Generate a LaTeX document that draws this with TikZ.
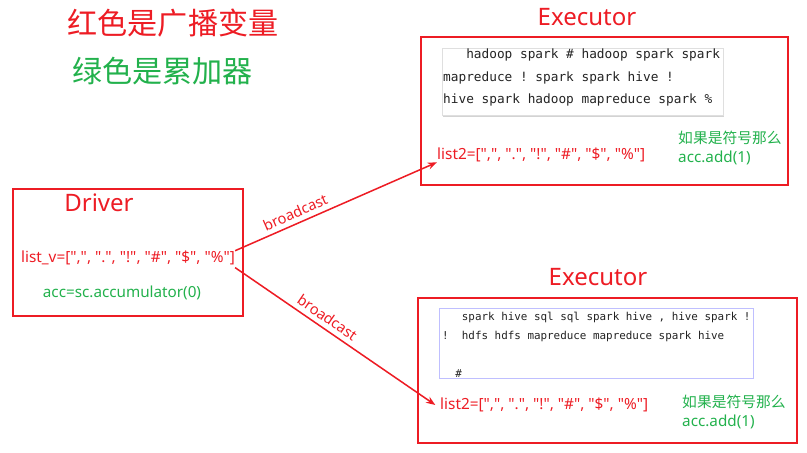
\documentclass[tikz,border=0pt]{standalone}
\usepackage{fontspec}
\setmonofont{DejaVu Sans Mono}
\newfontfamily\uifont{Noto Sans}
\newfontfamily\cjk{Noto Sans CJK SC}
\usepackage{tikz}
\usetikzlibrary{arrows.meta,positioning,shadows}
\definecolor{bcred}{RGB}{237,28,36}
\definecolor{accgreen}{RGB}{34,177,76}
\definecolor{codeink}{RGB}{35,35,35}
\newcommand{\fs}[1]{\fontsize{#1}{1.2\dimexpr#1pt\relax}\selectfont}

\begin{document}
\begin{tikzpicture}[x=0.03cm,y=-0.03cm,
  frame/.style={draw=bcred,line width=1.7pt},
  heading/.style={text=bcred,font=\uifont\fs{20.5}},
  redtxt/.style={text=bcred,font=\uifont\fs{13.1},inner sep=0pt},
  greentxt/.style={text=accgreen,font=\uifont\fontsize{13}{17}\selectfont,align=left,inner sep=0pt},
  codebox/.style={draw=gray!25,fill=white,line width=0.4pt},
  codetxt/.style={text=codeink,align=left,inner sep=0pt},
  bcast/.style={draw=bcred,line width=1.3pt,-{Stealth[length=8pt,width=6pt]}},
  bclabel/.style={text=bcred,font=\uifont\fs{12.5},sloped,above,inner sep=4pt}]
  \useasboundingbox (0,0) rectangle (807,453);

  % legend
  \node[text=bcred,font=\cjk\fs{25.7}] (legendred) at (173,23) {红色是广播变量};
  \node[text=accgreen,font=\cjk\fs{25.7}] (legendgreen) at (162.5,71) {绿色是累加器};

  % driver
  \node[frame,minimum width=6.9cm,minimum height=3.81cm] (driver) at (128,252.5) {};
  \node[heading] (drivertitle) at (99,203) {Driver};
  \node[redtxt] (listv) at (128,258) {list\_v=[",", ".", "!", "\#", "\$", "\%"]};
  \node[text=accgreen,font=\uifont\fs{13}] (accinit) at (122,293) {acc=sc.accumulator(0)};

  % executor 1
  \node[frame,minimum width=11.01cm,minimum height=4.44cm] (exec1) at (604.5,111) {};
  \node[heading] (exec1title) at (587,17) {Executor};
  \node[codebox,drop shadow={opacity=0.35,shadow xshift=1pt,shadow yshift=-1.5pt},
    minimum width=8.43cm,minimum height=2.01cm] (code1box) at (582.5,81.5) {};
  \node[codetxt,font=\fontsize{10.9}{19.2}\ttfamily,anchor=west] (code1) at (443,77.5)
    {~~~hadoop spark \# hadoop spark spark\\
     mapreduce ! spark spark hive !\\
     hive spark hadoop mapreduce spark \%};
  \node[redtxt,anchor=west] (list2a) at (437,155) {list2=[",", ".", "!", "\#", "\$", "\%"]};
  \node[greentxt,anchor=west] (add1) at (678,148) {{\cjk\fontsize{12.6}{17}\selectfont 如果是符号那么}\\acc.add(1)};

  % executor 2
  \node[frame,minimum width=11.37cm,minimum height=4.35cm] (exec2) at (607.5,370.5) {};
  \node[heading] (exec2title) at (598,277) {Executor};
  \node[codebox,draw=blue!25,line width=0.8pt,drop shadow={opacity=0.2,shadow xshift=1pt,shadow yshift=-1pt},
    minimum width=9.42cm,minimum height=2.1cm] (code2box) at (596,343) {};
  \node[codetxt,font=\fontsize{9.3}{16.2}\ttfamily,anchor=west] (code2) at (442,344.5)
    {~~~spark hive sql sql spark hive , hive spark !\\
     !~~hdfs hdfs mapreduce mapreduce spark hive\\
     \mbox{}\\
     ~~\#};
  \node[redtxt,anchor=west] (list2b) at (440,405) {list2=[",", ".", "!", "\#", "\$", "\%"]};
  \node[greentxt,anchor=west] (add2) at (682,412) {{\cjk\fontsize{12.6}{17}\selectfont 如果是符号那么}\\acc.add(1)};

  % broadcast
  \draw[bcast] (listv.north east) -- node[bclabel,pos=0.32] {broadcast} (list2a.south west);
  \draw[bcast] ([yshift=-2pt]listv.south east) -- node[bclabel,pos=0.43] {broadcast} ([xshift=-4pt]list2b.west);
\end{tikzpicture}
\end{document}
